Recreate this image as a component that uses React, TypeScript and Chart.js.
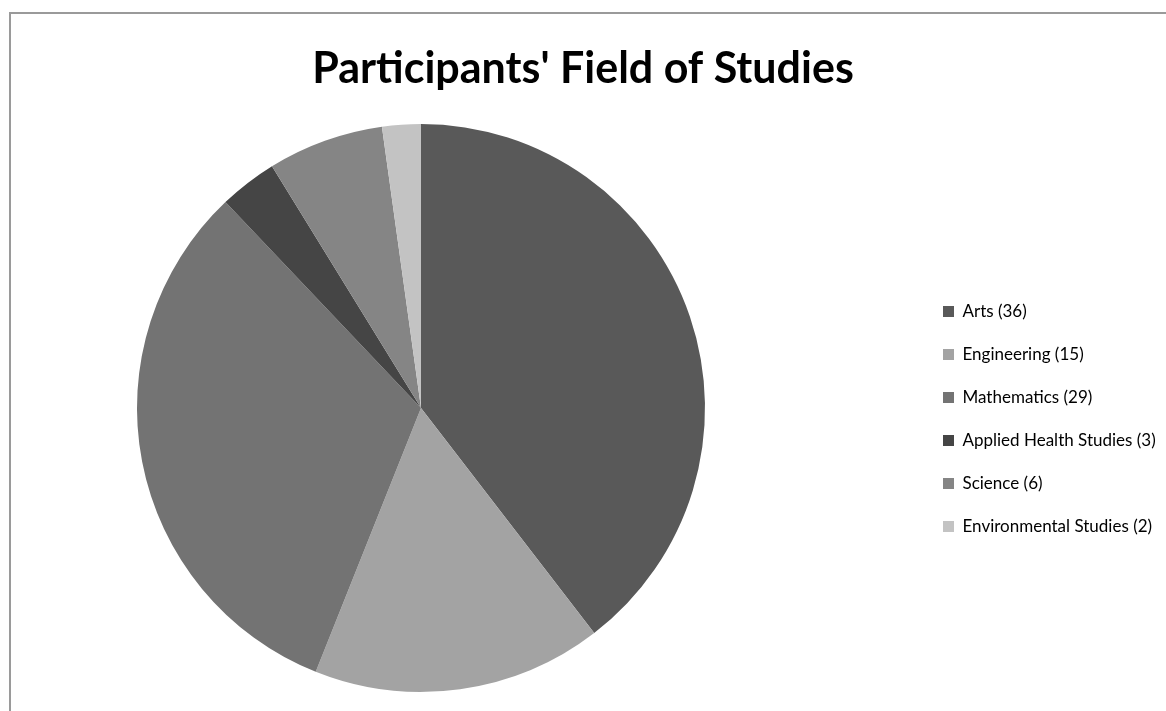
import React, { useEffect, useRef } from "react";
import { Chart, registerables } from "chart.js";

Chart.register(...registerables);

const titleText = "Participants' Field of Studies";
const categories = [
  "Arts (36)",
  "Engineering (15)",
  "Mathematics (29)",
  "Applied Health Studies (3)",
  "Science (6)",
  "Environmental Studies (2)",
];
const counts = [36, 15, 29, 3, 6, 2];
const sliceColors = ["#595959", "#a3a3a3", "#737373", "#454545", "#858585", "#c3c3c3"];

const placeBoxes = {
  id: "placeBoxes",
  afterLayout(chart: any) {
    const t = chart.titleBlock;
    if (t) {
      t.left = 0;
      t.right = 1150;
      t.width = 1150;
    }
    const l = chart.legend;
    if (l) {
      l.left = 909;
      l.right = chart.width;
      l.width = l.right - l.left;
      l.top = 121;
      l.bottom = 701;
      l.height = l.bottom - l.top;
    }
  },
};

export default function App() {
  const ref = useRef<HTMLCanvasElement | null>(null);

  useEffect(() => {
    if (!ref.current) return;
    const chart = new Chart(ref.current, {
      type: "pie",
      data: {
        labels: categories,
        datasets: [
          {
            data: counts,
            backgroundColor: sliceColors,
            borderWidth: 0,
            radius: 284,
          } as any,
        ],
      },
      plugins: [placeBoxes],
      options: {
        responsive: false,
        animation: false,
        layout: { padding: { left: 0, right: 232, top: 0, bottom: 13 } },
        plugins: {
          tooltip: { enabled: false },
          title: {
            display: true,
            text: titleText,
            color: "#000000",
            font: { family: "Lato", size: 43, weight: "bold" },
            padding: { top: 35, bottom: 23.4 },
          },
          legend: {
            display: true,
            position: "right",
            align: "center",
            maxWidth: 100,
            labels: {
              color: "#000000",
              font: { family: "Lato", size: 17 },
              boxWidth: 11,
              boxHeight: 11,
              padding: 26,
            },
          },
        },
      },
    });
    return () => chart.destroy();
  }, []);

  return (
    <div style={{ position: "relative", width: 1158, height: 703 }}>
      <div
        style={{
          position: "fixed",
          left: 9,
          top: 12,
          right: 0,
          bottom: 0,
          borderLeft: "2px solid #9a9a9a",
          borderTop: "2px solid #9a9a9a",
          pointerEvents: "none",
        }}
      />
      <canvas ref={ref} width={1158} height={703} style={{ display: "block", position: "relative" }} />
    </div>
  );
}
